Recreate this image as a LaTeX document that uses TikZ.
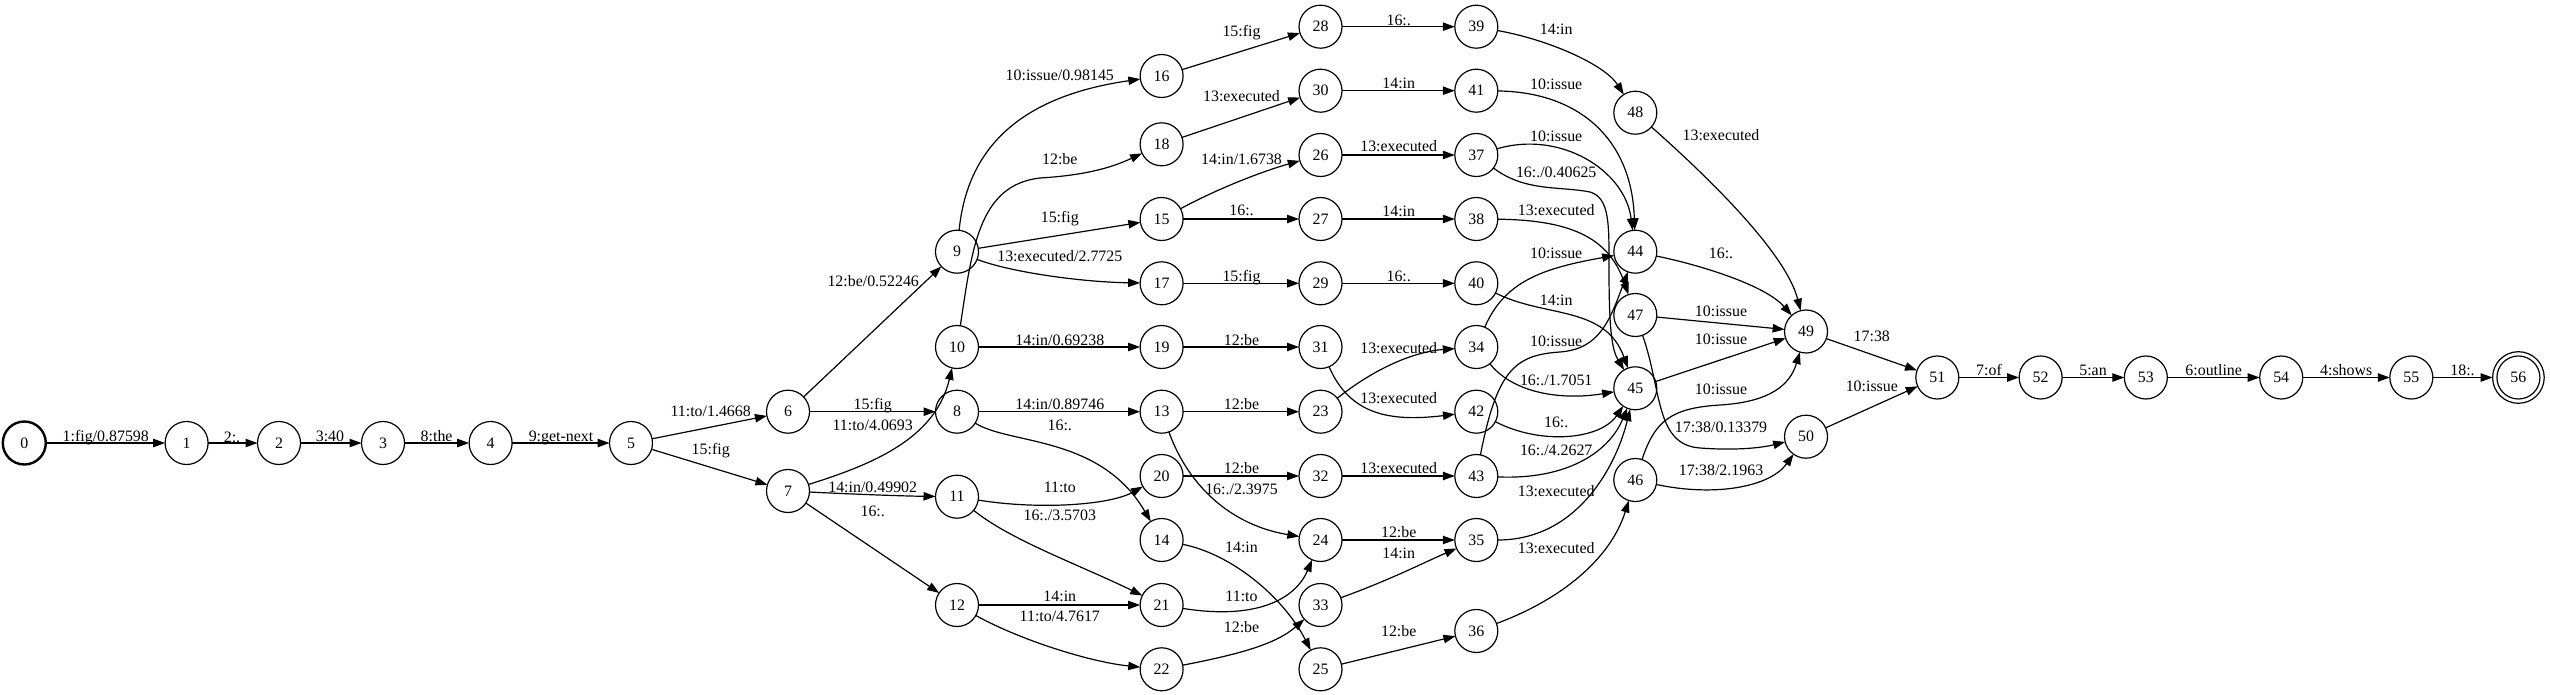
\documentclass[tikz,border=0pt]{standalone}
\usepackage{fontspec}
\setmainfont{Liberation Serif}
\usetikzlibrary{arrows.meta}
\tikzset{
  st/.style={circle, draw, line width=1.2pt, minimum size=43pt, inner sep=0pt, outer sep=0pt},
  ini/.style={st, line width=2.4pt},
  fin/.style={st, minimum size=51.6pt},
  lab/.style={inner sep=0pt, anchor=center, text height=10.5pt, text depth=0pt},
  e/.style={-{Triangle[length=12pt,width=8.4pt]}, line width=1.2pt},
}
\newcommand\lb[3]{\node[lab] (#1) at (#2) {#3};}
\begin{document}
\begin{tikzpicture}[x=1pt,y=-1pt,font=\fontsize{15.9}{19}\selectfont]
\path[use as bounding box, fill=white] (0,0) rectangle (2550,695);
% states
\node[ini] (n0) at (24.3,443) {0};
\node[st] (n1) at (186.6,443) {1};
\node[st] (n2) at (279,443) {2};
\node[st] (n3) at (383,443) {3};
\node[st] (n4) at (490.6,443) {4};
\node[st] (n5) at (631,443) {5};
\node[st] (n6) at (788,411.7) {6};
\node[st] (n7) at (788,491) {7};
\node[st] (n8) at (957,411.7) {8};
\node[st] (n9) at (957,251.7) {9};
\node[st] (n10) at (957,347) {10};
\node[st] (n11) at (957,496.7) {11};
\node[st] (n12) at (957,605) {12};
\node[st] (n13) at (1161.6,411.7) {13};
\node[st] (n14) at (1161.6,540) {14};
\node[st] (n15) at (1161.6,219) {15};
\node[st] (n16) at (1161.6,76) {16};
\node[st] (n17) at (1161.6,283.3) {17};
\node[st] (n18) at (1161.6,144.3) {18};
\node[st] (n19) at (1161.6,347) {19};
\node[st] (n20) at (1161.6,476) {20};
\node[st] (n21) at (1161.6,605) {21};
\node[st] (n22) at (1161.6,669.3) {22};
\node[st] (n23) at (1320.5,411.7) {23};
\node[st] (n24) at (1320.5,540) {24};
\node[st] (n25) at (1320.5,669.3) {25};
\node[st] (n26) at (1320.5,155) {26};
\node[st] (n27) at (1320.5,219) {27};
\node[st] (n28) at (1320.5,26.7) {28};
\node[st] (n29) at (1320.5,283.3) {29};
\node[st] (n30) at (1320.5,90.7) {30};
\node[st] (n31) at (1320.5,347) {31};
\node[st] (n32) at (1320.5,476) {32};
\node[st] (n33) at (1320.5,605) {33};
\node[st] (n34) at (1476.3,347) {34};
\node[st] (n35) at (1476.3,540) {35};
\node[st] (n36) at (1476.3,631) {36};
\node[st] (n37) at (1476.3,155) {37};
\node[st] (n38) at (1476.3,219) {38};
\node[st] (n39) at (1476.3,26.7) {39};
\node[st] (n40) at (1476.3,283.3) {40};
\node[st] (n41) at (1476.3,90.7) {41};
\node[st] (n42) at (1476.3,411.7) {42};
\node[st] (n43) at (1476.3,476) {43};
\node[st] (n44) at (1635.3,251.7) {44};
\node[st] (n45) at (1635.3,388.3) {45};
\node[st] (n46) at (1635.3,480) {46};
\node[st] (n47) at (1635.3,315) {47};
\node[st] (n48) at (1635.3,112.7) {48};
\node[st] (n49) at (1806,331.5) {49};
\node[st] (n50) at (1806,436.7) {50};
\node[st] (n51) at (1937.3,377.5) {51};
\node[st] (n52) at (2040.6,377.5) {52};
\node[st] (n53) at (2145.8,377.5) {53};
\node[st] (n54) at (2281.2,377.5) {54};
\node[st] (n55) at (2411.3,377.5) {55};
\node[fin] (n56) at (2518.4,377.5) {56};
\draw[line width=1.2pt] (n56.center) circle (21.5pt);
% straight edges
\draw[e] (n0) -- (n1);
\draw[e] (n1) -- (n2);
\draw[e] (n2) -- (n3);
\draw[e] (n3) -- (n4);
\draw[e] (n4) -- (n5);
\draw[e] (n5) -- (n6);
\draw[e] (n5) -- (n7);
\draw[e] (n6) -- (n9);
\draw[e] (n6) -- (n8);
\draw[e] (n7) -- (n12);
\draw[e] (n8) -- (n13);
\draw[e] (n9) -- (n15);
\draw[e] (n10) -- (n19);
\draw[e] (n12) -- (n21);
\draw[e] (n13) -- (n23);
\draw[e] (n15) -- (n27);
\draw[e] (n16) -- (n28);
\draw[e] (n17) -- (n29);
\draw[e] (n18) -- (n30);
\draw[e] (n19) -- (n31);
\draw[e] (n20) -- (n32);
\draw[e] (n24) -- (n35);
\draw[e] (n25) -- (n36);
\draw[e] (n26) -- (n37);
\draw[e] (n27) -- (n38);
\draw[e] (n28) -- (n39);
\draw[e] (n29) -- (n40);
\draw[e] (n30) -- (n41);
\draw[e] (n32) -- (n43);
\draw[e] (n45) -- (n49);
\draw[e] (n47) -- (n49);
\draw[e] (n49) -- (n51);
\draw[e] (n50) -- (n51);
\draw[e] (n51) -- (n52);
\draw[e] (n52) -- (n53);
\draw[e] (n53) -- (n54);
\draw[e] (n54) -- (n55);
\draw[e] (n55) -- (n56);
% curved edges
\draw[e] (n7) .. controls (870,465) and (935,440) .. (n10);
\draw[e] (n7) .. controls (850,494) and (900,496) .. (n11);
\draw[e] (n9) .. controls (968,140) and (1030,95) .. (n16);
\draw[e] (n10) .. controls (972,250) and (978,185) .. (1040,178) .. controls (1090,175) and (1115,166) .. (n18);
\draw[e] (n9) .. controls (1010,272) and (1080,282) .. (n17);
\draw[e] (n8) .. controls (1010,445) and (1100,435) .. (n14);
\draw[e] (n11) .. controls (1040,510) and (1110,505) .. (n20);
\draw[e] (n11) .. controls (1010,540) and (1080,565) .. (n21);
\draw[e] (n12) .. controls (1020,640) and (1090,662) .. (n22);
\draw[e] (n13) .. controls (1188,485) and (1230,525) .. (n24);
\draw[e] (n14) .. controls (1235,555) and (1285,600) .. (n25);
\draw[e] (n15) .. controls (1215,190) and (1260,172) .. (n26);
\draw[e] (n21) .. controls (1255,620) and (1295,600) .. (n24);
\draw[e] (n22) .. controls (1235,655) and (1275,645) .. (n33);
\draw[e] (n23) .. controls (1370,372) and (1410,352) .. (n34);
\draw[e] (n31) .. controls (1350,415) and (1390,422) .. (n42);
\draw[e] (n33) .. controls (1390,580) and (1425,562) .. (n35);
\draw[e] (n36) .. controls (1560,600) and (1610,560) .. (n46);
\draw[e] (n34) .. controls (1505,280) and (1545,268) .. (n44);
\draw[e] (n34) .. controls (1515,395) and (1565,400) .. (n45);
\draw[e] (n35) .. controls (1575,540) and (1615,470) .. (n45);
\draw[e] (n42) .. controls (1540,445) and (1600,440) .. (n45);
\draw[e] (n43) .. controls (1570,480) and (1610,450) .. (n45);
\draw[e] (n43) .. controls (1497,370) and (1515,355) .. (1560,352) .. controls (1600,349) and (1610,320) .. (n44);
\draw[e] (n37) .. controls (1560,130) and (1625,170) .. (n44);
\draw[e] (n41) .. controls (1580,92) and (1632,140) .. (n44);
\draw[e] (n37) .. controls (1525,192) and (1560,186) .. (1590,192) .. controls (1610,198) and (1609,225) .. (1609,270) .. controls (1609,330) and (1612,350) .. (n45);
\draw[e] (n38) .. controls (1575,220) and (1610,240) .. (n47);
\draw[e] (n39) .. controls (1550,40) and (1605,65) .. (n48);
\draw[e] (n40) .. controls (1545,318) and (1605,305) .. (n45);
\draw[e] (n44) .. controls (1700,265) and (1765,285) .. (n49);
\draw[e] (n48) .. controls (1700,170) and (1785,250) .. (n49);
\draw[e] (n46) .. controls (1655,420) and (1672,408) .. (1720,405) .. controls (1770,402) and (1790,385) .. (n49);
\draw[e] (n46) .. controls (1715,497) and (1770,487) .. (n50);
\draw[e] (n47) .. controls (1662,390) and (1655,445) .. (1700,448) .. controls (1740,451) and (1765,447) .. (n50);
% labels
\lb{l01}{105.8,436.7}{1:fig/0.87598}
\lb{l12}{232,437}{2:.}
\lb{l23}{330,436}{3:40}
\lb{l34}{436.6,436}{8:the}
\lb{l45}{561,436}{9:get-next}
\lb{l56}{710.7,411}{11:to/1.4668}
\lb{l57}{710.7,449}{15:fig}
\lb{l69}{873.2,281}{12:be/0.52246}
\lb{l68}{872.7,404}{15:fig}
\lb{l710}{872.7,425}{11:to/4.0693}
\lb{l711}{872.7,487.7}{14:in/0.49902}
\lb{l712}{872.7,511}{16:.}
\lb{l916}{1059.8,75}{10:issue/0.98145}
\lb{l1018}{1059.8,159.3}{12:be}
\lb{l915}{1059.8,217.3}{15:fig}
\lb{l917}{1059.8,256.7}{13:executed/2.7725}
\lb{l1019}{1059.8,340}{14:in/0.69238}
\lb{l813}{1059.8,404}{14:in/0.89746}
\lb{l814}{1059.8,425.7}{16:.}
\lb{l1120}{1059.8,487.7}{11:to}
\lb{l1121}{1059.8,515}{16:./3.5703}
\lb{l1221}{1059.8,596.7}{14:in}
\lb{l1222}{1059.8,616.7}{11:to/4.7617}
\lb{l1628}{1241.5,31.7}{15:fig}
\lb{l1830}{1241.5,96}{13:executed}
\lb{l1526}{1241.5,159.3}{14:in/1.6738}
\lb{l1527}{1241.5,210.7}{16:.}
\lb{l1729}{1241.5,276}{15:fig}
\lb{l1931}{1241.5,340}{12:be}
\lb{l1323}{1241.5,404}{12:be}
\lb{l2032}{1241.5,468.3}{12:be}
\lb{l1324}{1241.5,489}{16:./2.3975}
\lb{l1425}{1241.5,547.3}{14:in}
\lb{l2124}{1241.5,596.7}{11:to}
\lb{l2233}{1241.5,627.3}{12:be}
\lb{l2839}{1398.7,20}{16:.}
\lb{l3041}{1398.7,83.3}{14:in}
\lb{l2637}{1398.7,146.7}{13:executed}
\lb{l2738}{1398.7,211.7}{14:in}
\lb{l2940}{1398.7,276}{16:.}
\lb{l2334}{1398.7,348.3}{13:executed}
\lb{l3142}{1398.7,398.3}{13:executed}
\lb{l3243}{1398.7,468.3}{13:executed}
\lb{l2435}{1398.7,532.7}{12:be}
\lb{l3335}{1398.7,553.3}{14:in}
\lb{l2536}{1398.7,631}{12:be}
\lb{l3948}{1556.2,29.3}{14:in}
\lb{l4144}{1556.2,84}{10:issue}
\lb{l3744}{1556.2,136.7}{10:issue}
\lb{l3745}{1556.2,172.3}{16:./0.40625}
\lb{l3847}{1556.2,210}{13:executed}
\lb{l3444}{1556.2,253.3}{10:issue}
\lb{l4045}{1556.2,300}{14:in}
\lb{l4344}{1556.2,341.7}{10:issue}
\lb{l3445}{1556.2,380}{16:./1.7051}
\lb{l4245}{1556.2,422.3}{16:.}
\lb{l4345}{1556.2,450}{16:./4.2627}
\lb{l3545}{1556.2,491}{13:executed}
\lb{l3646}{1556.2,548.3}{13:executed}
\lb{l4849}{1721,135}{13:executed}
\lb{l4449}{1721,253.3}{16:.}
\lb{l4749}{1721,311}{10:issue}
\lb{l4549}{1721,339}{10:issue}
\lb{l4649}{1721,389.3}{10:issue}
\lb{l4750}{1721,427.7}{17:38/0.13379}
\lb{l4650}{1721,470.7}{17:38/2.1963}
\lb{l4951}{1871.8,336}{17:38}
\lb{l5051}{1871.8,386.7}{10:issue}
\lb{l5152}{1989,370}{7:of}
\lb{l5253}{2093,370}{5:an}
\lb{l5354}{2213.7,370}{6:outline}
\lb{l5455}{2346.2,370}{4:shows}
\lb{l5556}{2462.5,370}{18:.}
\end{tikzpicture}
\end{document}
